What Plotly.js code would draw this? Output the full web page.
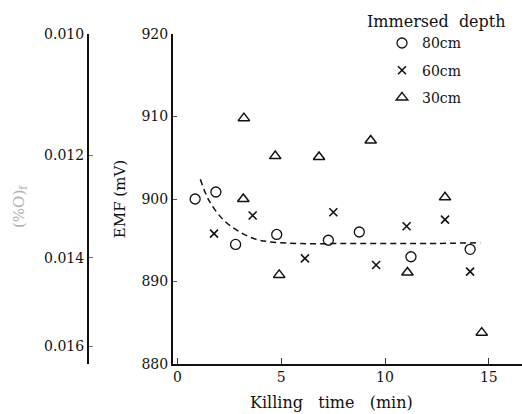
<!DOCTYPE html>
<html><head><meta charset="utf-8">
<script src="https://cdn.plot.ly/plotly-3.0.1.min.js"></script>
<style>html,body{margin:0;padding:0;background:#fff}#chart{width:522px;height:414px}</style>
</head><body><div id="chart"></div>
<script>
// Data
const seriesNames = ['80cm', '60cm', '30cm'];
const time80 = [0.85, 1.85, 2.8, 4.78, 7.27, 8.76, 11.25, 14.1];
const emf80  = [900.0, 900.85, 894.5, 895.7, 895.0, 896.0, 893.0, 893.9];
const time60 = [1.76, 3.62, 6.14, 7.51, 9.57, 11.04, 12.89, 14.1];
const emf60  = [895.8, 898.0, 892.8, 898.4, 892.0, 896.7, 897.5, 891.2];
const time30 = [3.17, 3.2, 4.71, 4.9, 6.82, 9.31, 11.08, 12.89, 14.66];
const emf30  = [900.0, 909.8, 905.2, 890.8, 905.1, 907.1, 891.1, 900.2, 883.8];
const curveTime = [1.1, 1.5, 2.2, 3.0, 3.8, 4.5, 6, 8, 10, 12, 14.6];
const curveEmf  = [902.4, 899.9, 897.5, 896.0, 895.1, 894.8, 894.6, 894.6, 894.6, 894.6, 894.7];
const emfTicks = [880, 890, 900, 910, 920];
const timeTicks = [0, 5, 10, 15];
const oxyTicks = [0.010, 0.012, 0.014, 0.016];
const oxyTickText = ['0.010', '0.012', '0.014', '0.016'];

const serif = 'DejaVu Serif, Liberation Serif, serif';
const W = 522, H = 414;
const px = v => v / W;

const traces = [
  {x: time80, y: emf80, name: seriesNames[0], mode: 'markers', legendgroup: 'a',
   marker: {symbol: 'circle-open', size: 10, color: '#111', line: {width: 1.3, color: '#111'}}},
  {x: time60, y: emf60, name: seriesNames[1], mode: 'markers', legendgroup: 'b',
   marker: {symbol: 'x-thin-open', size: 8, color: '#111', line: {width: 1.6, color: '#111'}}},
  {x: time30, y: emf30, name: seriesNames[2], mode: 'markers', legendgroup: 'c',
   marker: {symbol: 'triangle-up-open', size: 10, color: '#111', line: {width: 1.5, color: '#111'}}},
  {x: curveTime, y: curveEmf, mode: 'lines', showlegend: false, line: {shape: 'spline', dash: '6px,4px', width: 1.5, color: '#111'}},
  // helper trace so the oxygen scale axis is drawn (no visible marks)
  {x: [null, null], y: [oxyTicks[0], oxyTicks[3]], yaxis: 'y2', mode: 'markers', showlegend: false,
   hoverinfo: 'skip', marker: {opacity: 0}}
];

const layout = {
  width: W, height: H,
  margin: {l: 0, r: 0, t: 34, b: 50},
  paper_bgcolor: '#fff', plot_bgcolor: 'rgba(0,0,0,0)',
  font: {family: serif, size: 14, color: '#111'},
  showlegend: true,
  legend: {x: px(382), xanchor: 'left', y: 1.02, yanchor: 'top', bgcolor: 'rgba(0,0,0,0)',
           font: {family: serif, size: 14, color: '#111'}, tracegroupgap: 6, itemwidth: 30},
  xaxis: {domain: [px(173), 1], range: [-0.217, 16.6], showgrid: false, zeroline: false,
          showline: true, linecolor: '#111', linewidth: 1.5, ticks: 'inside', ticklen: 6,
          tickcolor: '#333', tickvals: timeTicks, ticktext: timeTicks.map(String),
          tickfont: {family: serif, size: 14}},
  yaxis: {range: [880, 920], showgrid: false, zeroline: false, showline: true, linecolor: '#111',
          linewidth: 2, ticks: 'inside', ticklen: 4, tickcolor: '#555', tickvals: emfTicks,
          ticktext: emfTicks.map(String), tickfont: {family: serif, size: 14},
          title: {text: 'EMF (mV)', font: {family: serif, size: 15}, standoff: 12}},
  yaxis2: {type: 'log', overlaying: 'y', anchor: 'free', position: px(88), side: 'left',
           domain: [0.015, 1], range: [Math.log10(0.01643), -2], autorange: false,
           showgrid: false, zeroline: false,
           showline: true, linecolor: '#111', linewidth: 2, ticks: 'inside', ticklen: 4,
           tickcolor: '#777', tickmode: 'array', tickvals: oxyTicks, ticktext: oxyTickText,
           tickfont: {family: serif, size: 14}},
  annotations: [
    {text: 'Killing\u00a0\u00a0 time\u00a0\u00a0 (min)', xref: 'paper', yref: 'paper', x: px(331), y: -(402 - 364) / 330,
     xanchor: 'center', yanchor: 'middle', showarrow: false,
     font: {family: serif, size: 16}},
    {text: 'Immersed\u00a0 depth', xref: 'paper', yref: 'paper', x: px(365), y: 1 + (34 - 21) / 330,
     xanchor: 'left', yanchor: 'middle', showarrow: false, font: {family: serif, size: 16}},
    {text: '(%O)<sub>f</sub>', xref: 'paper', yref: 'paper', x: px(20), y: (364 - 207) / 330,
     xanchor: 'center', yanchor: 'middle', textangle: -90, showarrow: false,
     font: {family: serif, size: 15, color: '#b0b0b0'}}
  ]
};

Plotly.newPlot('chart', traces, layout, {displayModeBar: false, staticPlot: true});
</script></body></html>
